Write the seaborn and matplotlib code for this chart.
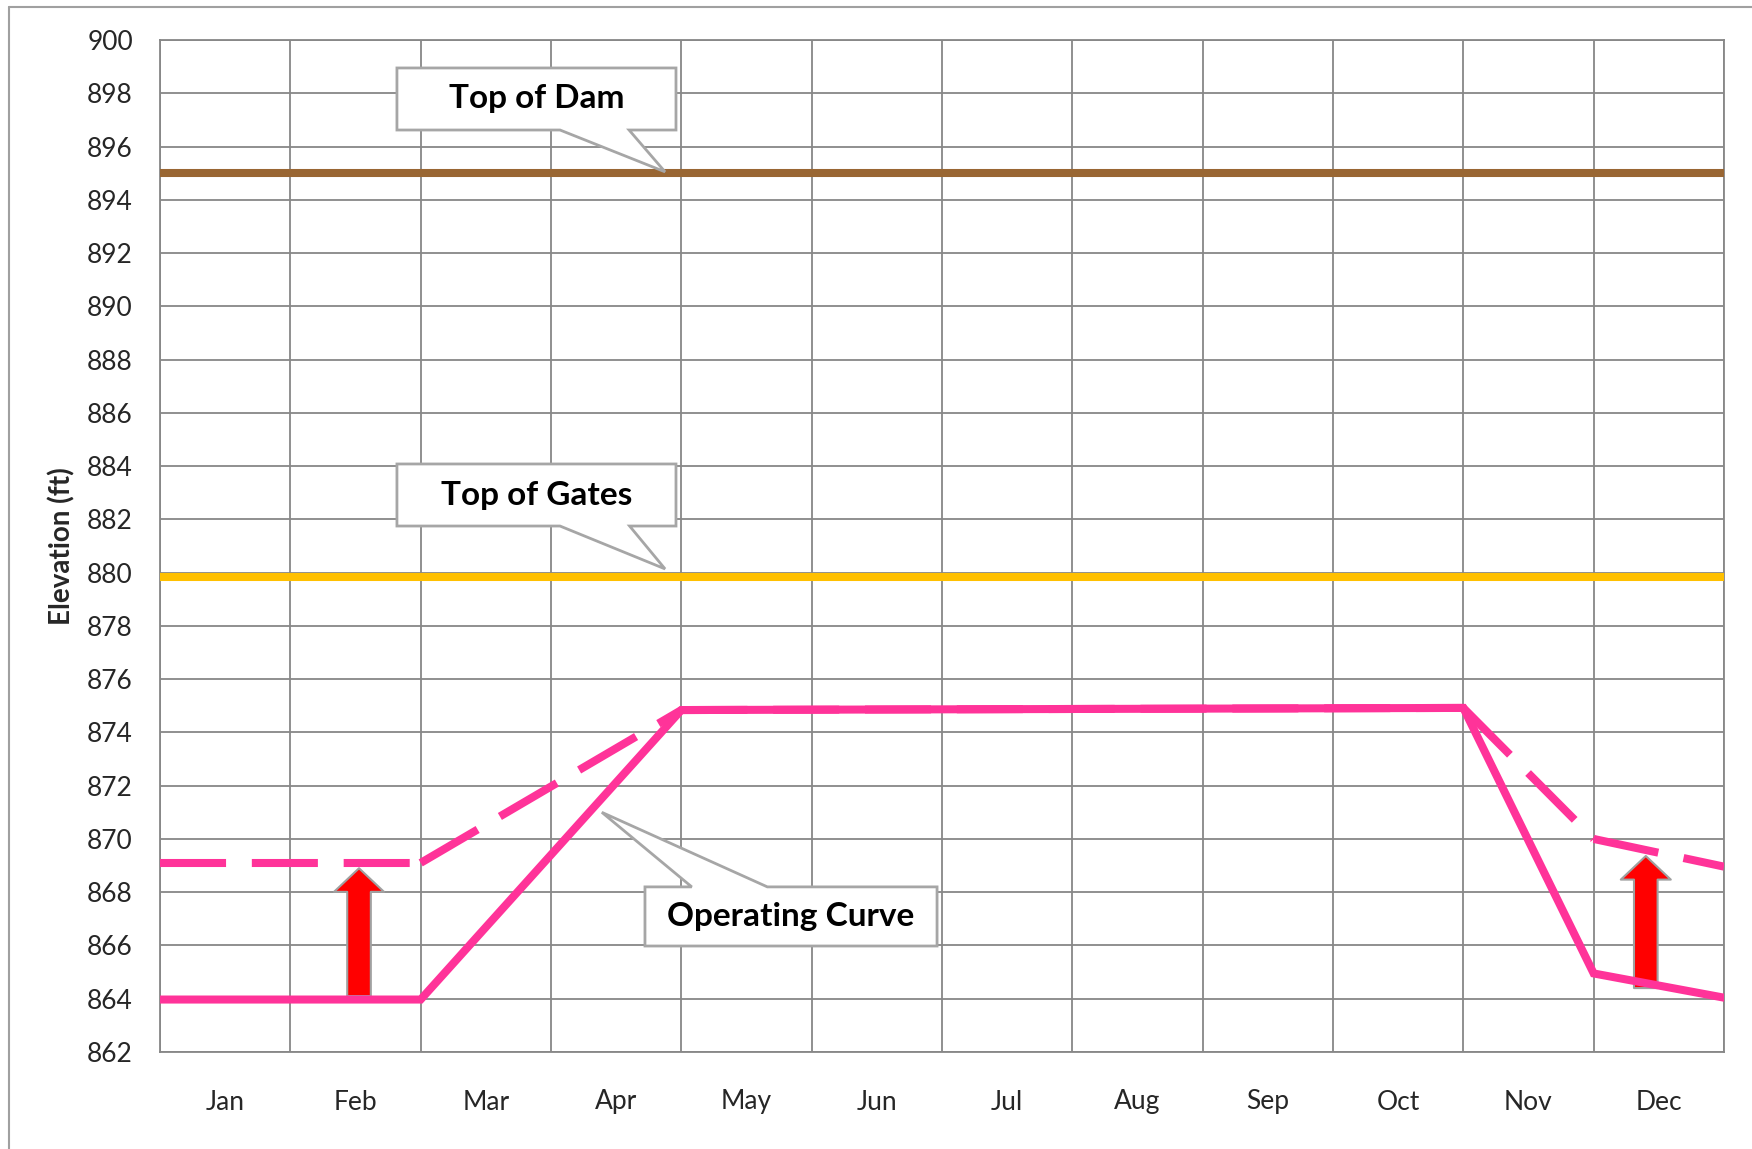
import numpy as np
import pandas as pd
import matplotlib
matplotlib.use("Agg")
import matplotlib.pyplot as plt
import seaborn as sns
from matplotlib.patches import Polygon, FancyArrowPatch
from matplotlib.lines import Line2D
from matplotlib import font_manager as fm

# ---------------- data ----------------
months = ["Jan", "Feb", "Mar", "Apr", "May", "Jun",
          "Jul", "Aug", "Sep", "Oct", "Nov", "Dec"]
# x positions are month boundaries: 0 = start of Jan, 12 = end of Dec
dam_x = [0, 12]
dam_y = [895.0, 895.0]
gates_x = [0, 12]
gates_y = [879.85, 879.85]
curve_x = [0, 2, 4, 10, 11, 12]
curve_y = [863.97, 863.97, 874.84, 874.92, 864.95, 864.04]
raised_x = [0, 2, 4, 10, 11, 12]
raised_y = [869.1, 869.1, 874.84, 874.92, 870.0, 868.96]
arrow_x = [1.527, 11.40]
arrow_base = [864.1, 864.4]
arrow_tip = [868.9, 869.36]
yticks = list(range(862, 901, 2))

# dashed curve drawn segment by segment (dash pattern restarts at each vertex)
seg_rows = []
for i in range(len(raised_x) - 1):
    seg_rows.append({"seg": i, "x": raised_x[i], "y": raised_y[i]})
    seg_rows.append({"seg": i, "x": raised_x[i + 1], "y": raised_y[i + 1]})
raised_df = pd.DataFrame(seg_rows)

# ---------------- style ----------------
sns.set_theme(style="white")
names = {f.name for f in fm.fontManager.ttflist}
tick_font = "Lato" if "Lato" in names else "DejaVu Sans"
bold_font = "Lato" if "Lato" in names else "DejaVu Sans"
plt.rcParams["font.family"] = [tick_font, "DejaVu Sans"]

GRID = "#878787"
PINK = "#FF3399"
BROWN = "#996633"
GOLD = "#FFC000"

fig = plt.figure(figsize=(17.52, 11.49), dpi=100)
ax = fig.add_axes([160 / 1752, 1 - 1052 / 1149, (1724 - 160) / 1752, (1052 - 40) / 1149])

lw = 5.8
sns.lineplot(x=dam_x, y=dam_y, ax=ax, color=BROWN, linewidth=lw, estimator=None, sort=False, zorder=3)
sns.lineplot(x=gates_x, y=gates_y, ax=ax, color=GOLD, linewidth=lw, estimator=None, sort=False, zorder=3)
sns.lineplot(x=curve_x, y=curve_y, ax=ax, color=PINK, linewidth=lw, estimator=None, sort=False,
             zorder=4, solid_joinstyle="miter")
sns.lineplot(data=raised_df, x="x", y="y", units="seg", ax=ax, color=PINK, linewidth=lw,
             estimator=None, sort=False, zorder=4, linestyle=(0, (8.2, 3.2)),
             dash_capstyle="butt", legend=False)

# red arrows
for xa, yb, yt in zip(arrow_x, arrow_base, arrow_tip):
    arr = FancyArrowPatch((xa, yb), (xa, yt),
                          arrowstyle="simple,head_width=36,head_length=17,tail_width=17",
                          mutation_scale=1, facecolor="#FF0000", edgecolor="#A0A0A0",
                          linewidth=1.5, shrinkA=0, shrinkB=0, zorder=3.5)
    ax.add_patch(arr)

# axes formatting
ax.set_xlim(0, 12)
ax.set_ylim(862, 900)
ax.set_xticks(range(13))
ax.set_xticklabels([""] * 13)
ax.set_xticks(np.arange(12) + 0.5, minor=True)
ax.set_xticklabels(months, minor=True)
ax.set_yticks(yticks)
ax.set_yticklabels([str(v) for v in yticks])
ax.tick_params(axis="x", which="minor", length=0, pad=27, labelsize=19)
ax.tick_params(axis="both", which="major", direction="out", length=7.5, width=1.3,
               color=GRID, labelsize=19)
ax.tick_params(axis="y", which="major", pad=12)
ax.grid(True, which="major", color=GRID, linewidth=1.3, zorder=0)
ax.set_axisbelow(True)
for s in ax.spines.values():
    s.set_color(GRID)
    s.set_linewidth(1.3)
ax.set_xlabel("")
ax.set_ylabel("Elevation (ft)", fontsize=20, fontweight="bold", family=[bold_font, "DejaVu Sans"])
ax.yaxis.set_label_coords(-0.054, 0.5)


# callouts
def callout(box, base, tip, text, pointer_at_bottom=True):
    x0, x1, y0, y1 = box  # y0 bottom, y1 top
    b1, b2 = base
    if pointer_at_bottom:
        verts = [(x0, y1), (x1, y1), (x1, y0), (b2, y0), tip, (b1, y0), (x0, y0)]
    else:
        verts = [(x0, y0), (x0, y1), (b1, y1), tip, (b2, y1), (x1, y1), (x1, y0)]
    poly = Polygon(verts, closed=True, facecolor="white", edgecolor="#A6A6A6",
                   linewidth=2, zorder=6, joinstyle="miter")
    ax.add_patch(poly)
    ax.text((x0 + x1) / 2, (y0 + y1) / 2, text, ha="center", va="center",
            fontsize=24, fontweight="bold", family=[bold_font, "DejaVu Sans"],
            color="black", zorder=7)


callout((1.818, 3.959, 896.62, 898.95), (3.069, 3.599), (3.875, 895.05), "Top of Dam")
callout((1.818, 3.959, 881.75, 884.08), (3.069, 3.603), (3.875, 880.14), "Top of Gates")
callout((3.721, 5.962, 865.98, 868.20), (4.08, 4.66), (3.39, 871.0), "Operating Curve",
        pointer_at_bottom=False)

# outer chart border (left and top)
fig.add_artist(Line2D([9 / 1752, 9 / 1752], [0, 1 - 7 / 1149], transform=fig.transFigure,
                      color="#A0A0A0", linewidth=1.5))
fig.add_artist(Line2D([9 / 1752, 1], [1 - 7 / 1149, 1 - 7 / 1149], transform=fig.transFigure,
                      color="#A0A0A0", linewidth=1.5))

fig.savefig("out.png", dpi=100)
